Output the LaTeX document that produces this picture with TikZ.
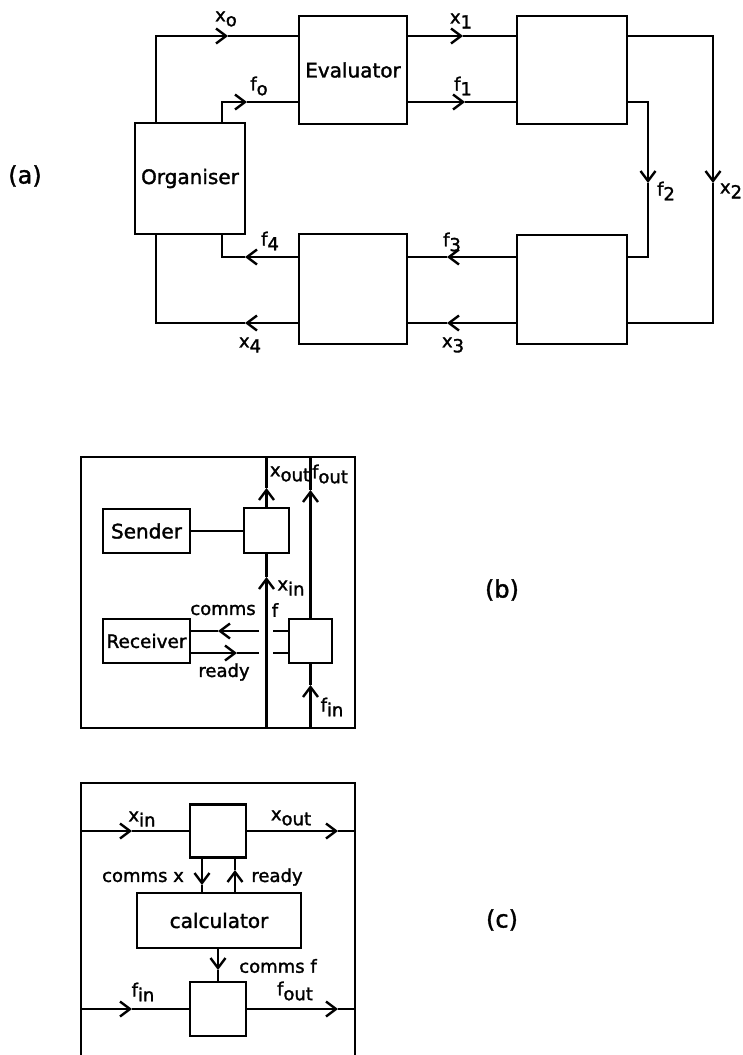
\documentclass[tikz,border=0pt]{standalone}
\usepackage{fontspec}
\setmainfont{DejaVu Sans}[FakeBold=1.5]
\newfontfamily\heavy{DejaVu Sans}[FakeBold=1.6]
\usetikzlibrary{arrows.meta}
\newcommand\sbs[2]{#1\raisebox{-0.5ex}{#2}}
\begin{document}
\begin{tikzpicture}[x=1pt,y=-1pt,line width=2.4pt,
  box/.style={draw,rectangle,inner sep=0pt,outer sep=0pt,font=\heavy\fontsize{20}{24}\selectfont},
  arr/.style={-{Straight Barb[length=10pt,width=15pt]}},
  lbl/.style={inner sep=0pt,font=\heavy\fontsize{18}{20}\selectfont},
  tag/.style={inner sep=0pt,font=\heavy\fontsize{24}{26}\selectfont}]
\useasboundingbox (0,0) rectangle (743,1055);

% ---------------- (a) ----------------
\node[tag] (ta) at (25,176) {(a)};
\node[box,minimum width=110,minimum height=111] (org) at (190,178.5) {Organiser};
\node[box,minimum width=108,minimum height=108] (eval) at (353,70) {Evaluator};
\node[box,minimum width=110,minimum height=108] (b1) at (572,70) {};
\node[box,minimum width=110,minimum height=109] (b3) at (572,289.5) {};
\node[box,minimum width=108,minimum height=110] (b4) at (353,289) {};

\coordinate (x0c) at (156,36);  \coordinate (x0t) at (228,36);
\coordinate (f0c) at (222,102); \coordinate (f0t) at (247,102);
\coordinate (x1t) at (463,36);  \coordinate (f1t) at (465,102);
\coordinate (x2a) at (713,36);  \coordinate (x2t) at (713,183); \coordinate (x2b) at (713,323);
\coordinate (f2a) at (648,102); \coordinate (f2t) at (648,183); \coordinate (f2b) at (648,257);
\coordinate (f3t) at (447,257); \coordinate (x3t) at (447,323);
\coordinate (f4t) at (245,257); \coordinate (f4c) at (222,257);
\coordinate (x4t) at (245,323); \coordinate (x4c) at (156,323);

\draw[arr] (org.north -| x0c) -- (x0c) -- (x0t);
\draw (x0t) -- (x0t -| eval.west);
\draw[arr] (org.north -| f0c) -- (f0c) -- (f0t);
\draw (f0t) -- (f0t -| eval.west);
\draw[arr] (eval.east |- x1t) -- (x1t);
\draw (x1t) -- (x1t -| b1.west);
\draw[arr] (eval.east |- f1t) -- (f1t);
\draw (f1t) -- (f1t -| b1.west);
\draw[arr] (b1.east |- x2a) -- (x2a) -- (x2t);
\draw (x2t) -- (x2b) -- (x2b -| b3.east);
\draw[arr] (b1.east |- f2a) -- (f2a) -- (f2t);
\draw (f2t) -- (f2b) -- (f2b -| b3.east);
\draw[arr] (b3.west |- f3t) -- (f3t);
\draw (f3t) -- (f3t -| b4.east);
\draw[arr] (b3.west |- x3t) -- (x3t);
\draw (x3t) -- (x3t -| b4.east);
\draw[arr] (b4.west |- f4t) -- (f4t);
\draw (f4t) -- (f4c) -- (f4c |- org.south);
\draw[arr] (b4.west |- x4t) -- (x4t);
\draw (x4t) -- (x4c) -- (x4c |- org.south);

\node[lbl] (lx0) at (226,19) {\sbs{x}{o}};
\node[lbl] (lf0) at (259,86) {\sbs{f}{o}};
\node[lbl] (lx1) at (461,21) {\sbs{x}{1}};
\node[lbl] (lf1) at (463,86) {\sbs{f}{1}};
\node[lbl] (lf2) at (666,191) {\sbs{f}{2}};
\node[lbl] (lx2) at (731,191) {\sbs{x}{2}};
\node[lbl] (lf3) at (452,242) {\sbs{f}{3}};
\node[lbl] (lf4) at (270,241) {\sbs{f}{4}};
\node[lbl] (lx3) at (453,345) {\sbs{x}{3}};
\node[lbl] (lx4) at (250,345) {\sbs{x}{4}};

% ---------------- (b) ----------------
\node[tag] (tb) at (502,590) {(b)};
\node[box,minimum width=274,minimum height=271] (bfr) at (218,592.5) {};
\node[box,minimum width=87,minimum height=44] (snd) at (146.5,531) {Sender};
\node[box,minimum width=45,minimum height=45] (bx) at (266.5,530.5) {};
\node[box,minimum width=87,minimum height=44] (rcv) at (146.5,641) {\fontsize{18.5}{22}\selectfont Receiver};
\node[box,minimum width=43,minimum height=44] (bf) at (310.5,641) {};

\draw (snd.east) -- (snd.east -| bx.west);
\coordinate (bxi) at (266.5,577); \coordinate (bxo) at (266.5,488);
\coordinate (bfi) at (310.5,685); \coordinate (bfo) at (310.5,490);
\draw[arr] (bfr.south -| bx.south) -- (bxi);
\draw (bxi) -- (bx.south);
\draw[arr] (bx.north) -- (bxo);
\draw (bxo) -- (bxo |- bfr.north);
\draw[arr] (bfr.south -| bf.south) -- (bfi);
\draw (bfi) -- (bf.south);
\draw[arr] (bf.north) -- (bfo);
\draw (bfo) -- (bfo |- bfr.north);

\coordinate (cmA) at (273,631); \coordinate (cmB) at (259,631); \coordinate (cmT) at (218,631);
\coordinate (rdA) at (273,653); \coordinate (rdB) at (259,653); \coordinate (rdT) at (237,653);
\draw (bf.west |- cmA) -- (cmA);
\draw[arr] (cmB) -- (cmT);
\draw (cmT) -- (cmT -| rcv.east);
\draw[arr] (rcv.east |- rdT) -- (rdT);
\draw (rdT) -- (rdB);
\draw (rdA) -- (rdA -| bf.west);

\node[lbl] (lxo) at (290,474) {\sbs{x}{out}};
\node[lbl] (lfo) at (330,474) {\sbs{f}{out}};
\node[lbl] (lxi) at (291,588) {\sbs{x}{in}};
\node[lbl] (lcm) at (223,610) {comms};
\node[lbl] (lcf) at (275,610) {f};
\node[lbl] (lrd) at (224,672) {ready};
\node[lbl] (lfi) at (332,707) {\sbs{f}{in}};

% ---------------- (c) ----------------
\node[tag] (tc) at (502,920) {(c)};
\coordinate (cbl) at (81,1055); \coordinate (ctl) at (81,783);
\coordinate (ctr) at (355,783); \coordinate (cbr) at (355,1055);
\draw (cbl) -- (ctl) -- (ctr) -- (cbr);
\node[box,minimum width=56,minimum height=53] (cx) at (218,831) {};
\node[box,minimum width=164,minimum height=55] (calc) at (219,920.5) {calculator};
\node[box,minimum width=56,minimum height=54] (cf) at (218,1009) {};

\coordinate (cxl) at (81,831);  \coordinate (cxt) at (132,831);
\coordinate (cxo) at (338,831); \coordinate (cxr) at (355,831);
\coordinate (cfl) at (81,1009); \coordinate (cft) at (132,1009);
\coordinate (cfo) at (338,1009); \coordinate (cfr) at (355,1009);
\draw[arr] (cxl) -- (cxt);
\draw (cxt) -- (cxt -| cx.west);
\draw[arr] (cx.east |- cxo) -- (cxo);
\draw (cxo) -- (cxr);
\draw[arr] (cfl) -- (cft);
\draw (cft) -- (cft -| cf.west);
\draw[arr] (cf.east |- cfo) -- (cfo);
\draw (cfo) -- (cfr);

\coordinate (cmx) at (202,885); \coordinate (rdy) at (235,870); \coordinate (cmf) at (218,970);
\draw[arr] (cx.south -| cmx) -- (cmx);
\draw (cmx) -- (cmx |- calc.north);
\draw[arr] (calc.north -| rdy) -- (rdy);
\draw (rdy) -- (rdy |- cx.south);
\draw[arr] (calc.south -| cmf) -- (cmf);
\draw (cmf) -- (cmf |- cf.north);

\node[lbl] (cli) at (142,819) {\sbs{x}{in}};
\node[lbl] (clo) at (291,818) {\sbs{x}{out}};
\node[lbl] (clcx) at (143,877) {comms x};
\node[lbl] (clrd) at (277,877) {ready};
\node[lbl] (clcf) at (278,966) {comms f};
\node[lbl] (clfi) at (143,992) {\sbs{f}{in}};
\node[lbl] (clfo) at (295,991) {\sbs{f}{out}};
\end{tikzpicture}
\end{document}
